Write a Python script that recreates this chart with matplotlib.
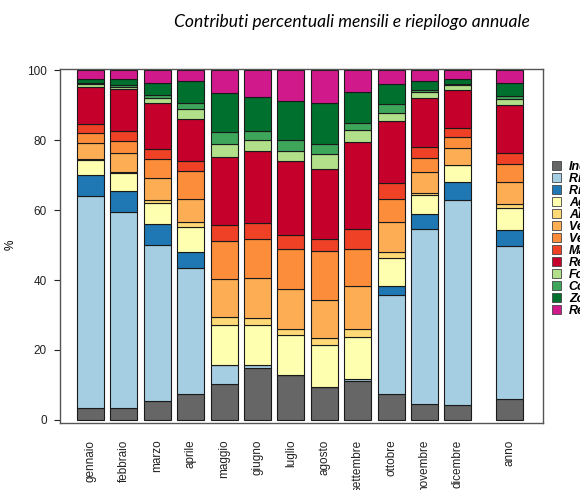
import numpy as np
import matplotlib
matplotlib.use("Agg")
import matplotlib.pyplot as plt
from matplotlib.patches import Patch

# mesi + riepilogo annuale
mesi = ['gennaio', 'febbraio', 'marzo', 'aprile', 'maggio', 'giugno', 'luglio',
        'agosto', 'settembre', 'ottobre', 'novembre', 'dicembre', 'anno']

# contributi percentuali per sorgente (dal basso verso l'alto)
industria = [3.5, 3.5, 5.4, 7.3, 10.2, 14.8, 12.8, 9.5, 11.1, 7.3, 4.5, 4.2, 5.9]
risc_legna = [60.5, 55.9, 44.6, 36.2, 5.5, 0.8, 0.0, 0.0, 0.5, 28.3, 50.0, 58.7, 43.8]
risc_altro = [6.0, 6.0, 5.9, 4.6, 0.0, 0.0, 0.0, 0.0, 0.0, 2.7, 4.3, 5.2, 4.5]
agricoltura = [4.2, 5.3, 6.2, 7.0, 11.3, 11.4, 11.4, 11.8, 12.2, 8.1, 5.4, 4.8, 6.5]
allevamenti = [0.3, 0.3, 0.7, 1.6, 2.5, 2.2, 1.9, 2.0, 2.3, 1.7, 0.8, 0.1, 0.9]
veicoli_legg = [4.7, 5.4, 6.4, 6.5, 10.9, 11.3, 11.2, 11.0, 12.2, 8.5, 5.9, 4.8, 6.4]
veicoli_pes = [2.9, 3.3, 5.3, 7.9, 10.7, 11.3, 11.7, 14.0, 10.7, 6.6, 4.1, 3.2, 5.2]
marittimo = [2.6, 2.9, 3.0, 2.9, 4.6, 4.6, 3.9, 3.5, 5.5, 4.4, 3.1, 2.4, 3.2]
regionale = [10.5, 12.1, 13.0, 12.1, 19.5, 20.5, 21.1, 19.8, 24.9, 17.8, 14.0, 10.8, 13.5]
fondo = [0.7, 0.5, 1.6, 2.7, 3.6, 3.1, 2.9, 4.5, 3.4, 2.4, 1.6, 1.4, 1.7]
combustione = [0.4, 0.4, 0.9, 1.9, 3.5, 2.6, 3.1, 2.7, 2.2, 2.4, 0.5, 0.3, 1.0]
zona = [1.2, 1.7, 3.4, 6.2, 11.0, 9.8, 11.1, 11.9, 8.7, 5.7, 2.7, 1.4, 3.8]
resto = [2.5, 2.7, 3.6, 3.1, 6.7, 7.6, 8.9, 9.3, 6.3, 4.1, 3.1, 2.7, 3.6]

serie = [industria, risc_legna, risc_altro, agricoltura, allevamenti, veicoli_legg,
         veicoli_pes, marittimo, regionale, fondo, combustione, zona, resto]
etichette = ['Industria', 'Riscaldamento legna', 'Riscaldamento altro', 'Agricoltura',
             'Allevamenti', 'Veicoli leggeri', 'Veicoli pesanti', 'Marittimo',
             'Regionale', 'Fondo', 'Combustione', 'Zona', 'Resto']
colori = ['#666666', '#a6cee3', '#1f78b4', '#ffffb0', '#fed976', '#fdae55',
          '#fc8d3a', '#ee4126', '#c4002b', '#b2df8a', '#3ea65a', '#00702e', '#d0198b']

fig = plt.figure(figsize=(5.8, 4.9), dpi=100)
ax = fig.add_axes([60/580, 1-423/490, 483/580, 354/490])

x = np.r_[np.arange(12), 12.56]
base = np.zeros(len(mesi))
for vals, col in zip(serie, colori):
    ax.bar(x, vals, width=0.81, bottom=base, color=col, edgecolor='#1a1a1a', linewidth=0.8)
    base += np.array(vals)

ax.set_xlim(-0.913, 13.55)
ax.set_ylim(-0.86, 100.29)
ax.set_xticks(x)
ax.set_xticklabels(mesi, rotation=90, fontsize=8.5, family='Liberation Sans', color='#222222')
ax.tick_params(axis='x', length=0, pad=12)
ax.set_yticks([0, 20, 40, 60, 80, 100])
ax.tick_params(axis='y', length=4.5, pad=5, labelsize=8.5, colors='#222222', width=0.8)
for lab in ax.get_yticklabels():
    lab.set_family('Liberation Sans')
for s in ax.spines.values():
    s.set_color('#555555')
    s.set_linewidth(1.0)

fig.text(11/580, 1-245/490, '%', rotation=90, ha='center', va='center',
         fontsize=8.5, family='Liberation Sans')
fig.text(352/580, 1-22/490, 'Contributi percentuali mensili e riepilogo annuale',
         ha='center', va='center', fontsize=12.6, style='italic', family='Lato')

handles = [Patch(facecolor=c, edgecolor='#444444', linewidth=0.6) for c in colori]
fig.legend(handles, etichette, loc='upper left', bbox_to_anchor=(552/580, 1-161/490),
           frameon=False, handlelength=0.7, handleheight=0.7, handletextpad=0.65,
           labelspacing=0.0, borderaxespad=0, borderpad=0,
           prop={'family': 'Liberation Sans', 'size': 9, 'weight': 'bold', 'style': 'italic'})

fig.savefig('out.png', dpi=100)
